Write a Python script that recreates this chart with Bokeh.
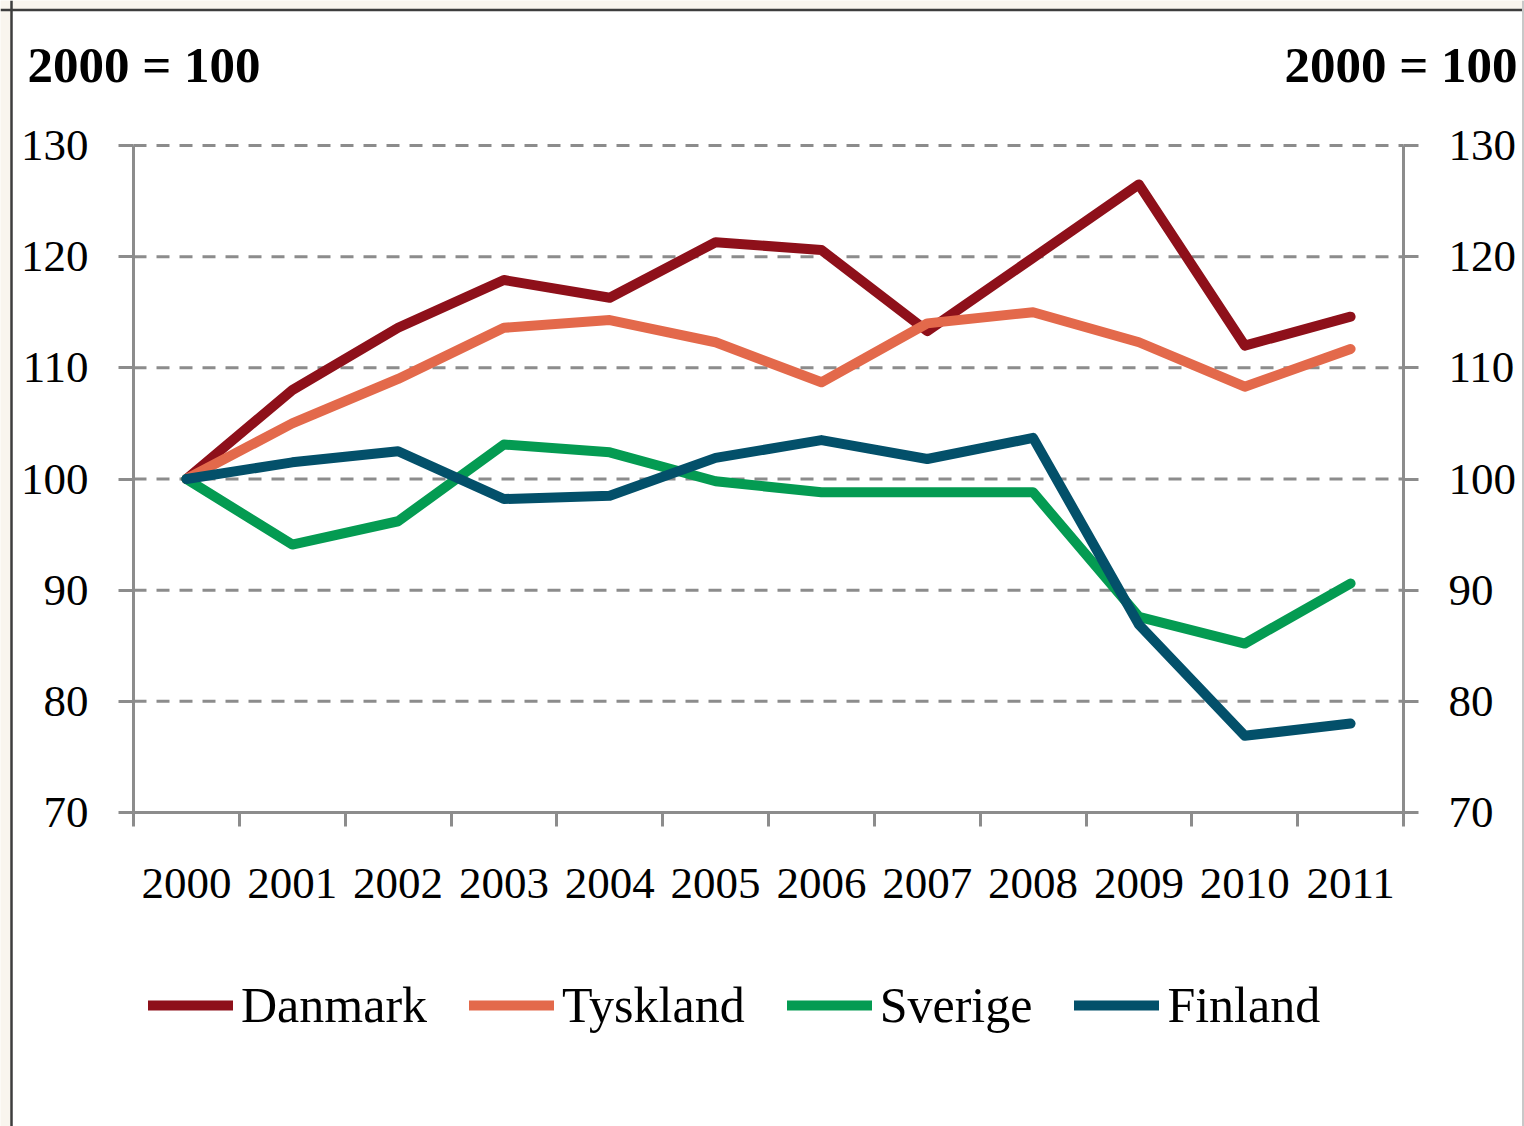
from bokeh.plotting import figure
from bokeh.models import (Range1d, LinearAxis, FixedTicker, Legend, LegendItem, Label,
                          BoxAnnotation, Span)
from bokeh.embed import file_html
from bokeh.resources import INLINE

# ---------------- data ----------------
years = ["2000", "2001", "2002", "2003", "2004", "2005", "2006", "2007", "2008", "2009", "2010", "2011"]
danmark = [100, 108.0, 113.6, 117.9, 116.3, 121.3, 120.6, 113.3, 119.9, 126.5, 112.0, 114.6]
tyskland = [100, 105.0, 109.0, 113.6, 114.3, 112.3, 108.7, 114.0, 115.0, 112.3, 108.3, 111.7]
sverige = [100, 94.1, 96.2, 103.1, 102.4, 99.8, 98.8, 98.8, 98.8, 87.6, 85.2, 90.6]
finland = [100, 101.5, 102.5, 98.2, 98.5, 101.9, 103.5, 101.8, 103.7, 86.9, 76.9, 78.0]
y_ticks = [70, 80, 90, 100, 110, 120, 130]
title_text = "2000 = 100"
names = ["Danmark", "Tyskland", "Sverige", "Finland"]
colors = ["#8e101a", "#e3694b", "#049b52", "#03506a"]

# ---------------- layout (pixels) ----------------
W, H = 1524, 1126
X0, X1 = 133, 1403      # left / right axis
YT, YB = 145, 812       # top (130) / bottom (70) of plot area
FONT = "Liberation Serif"
GRAY = "#8c8c8c"

n = len(years)
ymin, ymax = y_ticks[0], y_ticks[-1]
pxu = (X1 - X0) / n
pyu = (YB - YT) / (ymax - ymin)
x_start = -X0 / pxu
x_end = n + (W - X1) / pxu
y_end = ymax + YT / pyu
y_start = ymin - (H - YB) / pyu

def px_to_x(px):
    return x_start + px / pxu

def py_to_y(py):
    return y_end - py / pyu

centers = [i + 0.5 for i in range(n)]
bounds = [float(i) for i in range(n + 1)]

p = figure(width=W, height=H, x_range=Range1d(x_start, x_end), y_range=Range1d(y_start, y_end),
           output_backend="svg", toolbar_location=None,
           x_axis_location=None, y_axis_location=None,
           min_border=0, min_border_left=0, min_border_right=0, min_border_top=0, min_border_bottom=0,
           background_fill_color="#f9f5ee", border_fill_color="#f9f5ee", outline_line_color=None)
p.xgrid.visible = False
p.ygrid.visible = False

# white chart box with frame lines
p.add_layout(BoxAnnotation(left=px_to_x(11), right=px_to_x(1522), top=py_to_y(9.5), bottom=py_to_y(H + 20),
                           fill_color="white", fill_alpha=1, line_color=None, level="underlay"))
p.add_layout(Span(location=px_to_x(11), dimension="height", line_color="#3d3d3d", line_width=2.5, level="underlay"))
p.add_layout(Span(location=py_to_y(9.5), dimension="width", line_color="#3d3d3d", line_width=2.5, level="underlay"))
p.add_layout(Span(location=px_to_x(1522.5), dimension="height", line_color="#c8c8c8", line_width=2, level="underlay"))

# dashed horizontal grid lines
gt = y_ticks[1:]
p.segment(x0=[0] * len(gt), x1=[n] * len(gt), y0=gt, y1=gt,
          line_color=GRAY, line_width=3, line_dash="13 10")

# x axis
xa = LinearAxis(fixed_location=ymin, bounds=(0, n),
                ticker=FixedTicker(ticks=centers, minor_ticks=bounds))
xa.major_label_overrides = {c: y for c, y in zip(centers, years)}
xa.major_tick_line_color = None
xa.major_tick_in = 0
xa.major_tick_out = 0
xa.minor_tick_in = 0
xa.minor_tick_out = 14
xa.minor_tick_line_color = GRAY
xa.minor_tick_line_width = 3
xa.axis_line_color = GRAY
xa.axis_line_width = 3
xa.major_label_standoff = 42
xa.major_label_text_font = FONT
xa.major_label_text_font_size = "45px"
xa.major_label_text_color = "black"
p.add_layout(xa, "below")

# y axes
la = LinearAxis(fixed_location=0, bounds=(ymin, ymax))
ra = LinearAxis(fixed_location=n, bounds=(ymin, ymax))
for ax in (la, ra):
    ax.ticker = FixedTicker(ticks=y_ticks)
    ax.axis_line_color = GRAY
    ax.axis_line_width = 3
    ax.major_tick_line_color = GRAY
    ax.major_tick_line_width = 3
    ax.major_tick_in = 0
    ax.major_tick_out = 15
    ax.minor_tick_line_color = None
    ax.major_label_standoff = 30
    ax.major_label_text_font = FONT
    ax.major_label_text_font_size = "45px"
    ax.major_label_text_color = "black"
p.add_layout(la, "left")
p.add_layout(ra, "right")

# data lines
items = []
for name, vals, col in zip(names, [danmark, tyskland, sverige, finland], colors):
    r = p.line(centers, vals, line_width=10, line_color=col, line_cap="round", line_join="round")
    items.append(LegendItem(label=name, renderers=[r]))

legend = Legend(items=items, orientation="horizontal", location=(148, 92),
                glyph_width=85, glyph_height=20, label_standoff=8, spacing=42,
                padding=0, margin=0, border_line_color=None, background_fill_alpha=0,
                label_text_font=FONT, label_text_font_size="50px", label_text_color="black")
p.add_layout(legend)

p.add_layout(Label(x=27, y=H - 64, x_units="screen", y_units="screen", text=title_text,
                   text_font=FONT, text_font_style="bold", text_font_size="51px",
                   text_baseline="alphabetic", text_color="black"))
p.add_layout(Label(x=1517, y=H - 64, x_units="screen", y_units="screen", text=title_text,
                   text_font=FONT, text_font_style="bold", text_font_size="51px",
                   text_baseline="alphabetic", text_align="right", text_color="black"))

open("out.html", "w").write(file_html(p, INLINE))
